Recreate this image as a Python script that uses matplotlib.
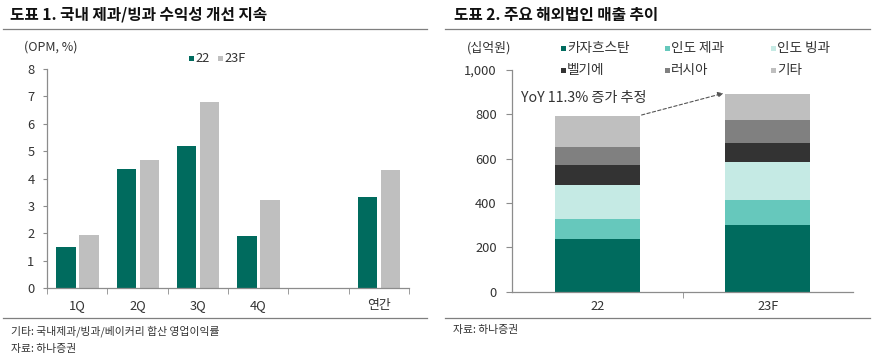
import matplotlib
matplotlib.use("Agg")
import matplotlib.pyplot as plt
from matplotlib.patches import Rectangle
from matplotlib.lines import Line2D
import numpy as np

plt.rcParams['font.family'] = ['Noto Sans CJK KR', 'DejaVu Sans']

# ---------------- data ----------------
left_categories = ['1Q', '2Q', '3Q', '4Q', '', '연간']
opm_22 = [1.48, 4.35, 5.18, 1.90, np.nan, 3.32]
opm_23f = [1.95, 4.68, 6.80, 3.22, np.nan, 4.30]
left_series = ['22', '23F']

right_categories = ['22', '23F']
seg_names = ['카자흐스탄', '인도 제과', '인도 빙과', '벨기에', '러시아', '기타']
kazakhstan = [238, 301]
india_conf = [89, 112]
india_ice = [155, 172]
belgium = [91, 86]
russia = [81, 102]
others = [139, 120]

W, H = 893, 361
fig = plt.figure(figsize=(W / 100, H / 100), dpi=100)

def fx(px):
    return px / W

def fy(py):
    return 1 - py / H

TEAL = '#006B5E'
LGRAY = '#BFBFBF'
TXT = '#333333'
SPINE = '#8C8C8C'
seg_colors = [TEAL, '#66C8BC', '#C5EAE4', '#333333', '#808080', '#BFBFBF']

# ---------------- titles / rules / footers ----------------
fig.text(fx(10), fy(15), '도표 1. 국내 제과/빙과 수익성 개선 지속', fontsize=11.3,
         fontweight='bold', va='center', ha='left', color='#111111')
fig.text(fx(454), fy(15), '도표 2. 주요 해외법인 매출 추이', fontsize=11.3,
         fontweight='bold', va='center', ha='left', color='#111111')
for x0, x1 in [(3, 427), (445, 870)]:
    fig.add_artist(Line2D([fx(x0), fx(x1)], [fy(29), fy(29)], color='#7F7F7F', lw=0.9))
    fig.add_artist(Line2D([fx(x0), fx(x1)], [fy(318), fy(318)], color='#7F7F7F', lw=0.9))
fig.text(fx(11), fy(331), '기타: 국내제과/빙과/베이커리 합산 영업이익률', fontsize=7.8,
         va='center', ha='left', color=TXT)
fig.text(fx(11), fy(349), '자료: 하나증권', fontsize=7.8, va='center', ha='left', color=TXT)
fig.text(fx(453), fy(330), '자료: 하나증권', fontsize=7.8, va='center', ha='left', color=TXT)

# ---------------- left chart ----------------
ax1 = fig.add_axes([fx(47), fy(288), fx(409 - 47), (288 - 69) / H])
x = np.arange(len(left_categories))
bw = 0.32
ax1.bar(x - 0.185, opm_22, width=bw, color=TEAL)
ax1.bar(x + 0.195, opm_23f, width=bw, color=LGRAY)
ax1.set_xlim(-0.5, len(left_categories) - 0.5)
ax1.set_ylim(0, 8)
ax1.set_yticks(range(0, 9))
ax1.set_xticks(x)
ax1.set_xticklabels(left_categories)
ax1.set_xticks(np.arange(-0.5, len(left_categories)), minor=True)
ax1.tick_params(axis='x', which='major', length=0, pad=8, labelsize=9.3, colors=TXT)
ax1.tick_params(axis='x', which='minor', length=4, color=SPINE, direction='out')
ax1.tick_params(axis='y', length=3, pad=6, labelsize=9.3, colors=TXT, color=SPINE)
for s in ['top', 'right']:
    ax1.spines[s].set_visible(False)
for s in ['left', 'bottom']:
    ax1.spines[s].set_color(SPINE)
    ax1.spines[s].set_linewidth(0.9)
fig.text(fx(24), fy(47), '(OPM, %)', fontsize=9, va='center', ha='left', color=TXT)

def legend_item(px, py, color, label, size=5, fs=9.3):
    fig.add_artist(Rectangle((fx(px - size / 2), fy(py + size / 2)), size / W, size / H,
                             transform=fig.transFigure, facecolor=color, edgecolor='none'))
    fig.text(fx(px + size / 2 + 1.5), fy(py), label, fontsize=fs, va='center', ha='left',
             color=TXT)

legend_item(191, 58, TEAL, left_series[0])
legend_item(220, 58, LGRAY, left_series[1])

# ---------------- right chart ----------------
ax2 = fig.add_axes([fx(512), fy(291.7), fx(853 - 512), (291.7 - 70) / H])
xr = np.arange(len(right_categories))
bottom = np.zeros(len(right_categories))
for vals, col in zip([kazakhstan, india_conf, india_ice, belgium, russia, others], seg_colors):
    ax2.bar(xr, vals, width=0.5, bottom=bottom, color=col)
    bottom += np.array(vals)
ax2.set_xlim(-0.5, 1.5)
ax2.set_ylim(0, 1000)
ax2.set_yticks(range(0, 1001, 200))
ax2.set_yticklabels([f'{v:,}' for v in range(0, 1001, 200)])
ax2.set_xticks(xr)
ax2.set_xticklabels(right_categories)
ax2.set_xticks([0.5], minor=True)
ax2.tick_params(axis='x', which='major', length=0, pad=6, labelsize=9.3, colors=TXT)
ax2.tick_params(axis='x', which='minor', length=4, color=SPINE, direction='out')
ax2.tick_params(axis='y', length=4, pad=7, labelsize=9.3, colors=TXT, color=SPINE)
for s in ['top', 'right']:
    ax2.spines[s].set_visible(False)
for s in ['left', 'bottom']:
    ax2.spines[s].set_color(SPINE)
    ax2.spines[s].set_linewidth(0.9)
fig.text(fx(467), fy(48), '(십억원)', fontsize=9.3, va='center', ha='left', color=TXT)

leg_x = [563, 667, 773]
leg_y = [48, 70]
for i, (name, col) in enumerate(zip(seg_names, seg_colors)):
    legend_item(leg_x[i % 3], leg_y[i // 3], col, name, fs=9.8)

tot = bottom
ax2.annotate('', xy=(0.74, tot[1] + 2), xytext=(0.26, tot[0] + 4),
             arrowprops=dict(arrowstyle='-|>', linestyle=(0, (3, 2)), color='#555555',
                             lw=0.8, mutation_scale=8, shrinkA=0, shrinkB=0))
ax2.text(-0.5 + (521 - 512) / 170.5, 873, 'YoY 11.3% 증가 추정', fontsize=10.2,
         va='center', ha='left', color=TXT)

fig.savefig('out.png', dpi=100, facecolor='white')
